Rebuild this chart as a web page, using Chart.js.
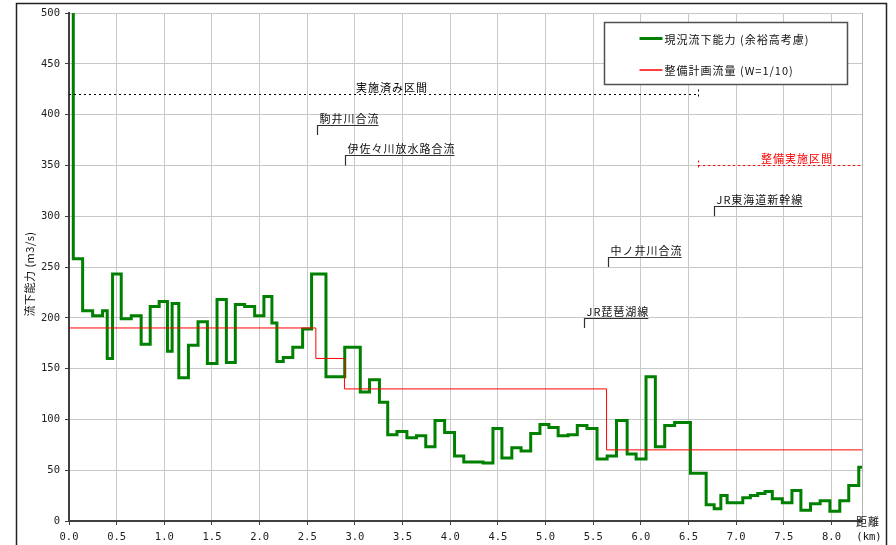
<!DOCTYPE html>
<html lang="ja">
<head>
<meta charset="utf-8">
<title>流下能力縦断図</title>
<script src="https://cdn.jsdelivr.net/npm/chart.js@4.4.1/dist/chart.umd.min.js"></script>
<style>
  html, body { margin: 0; padding: 0; background: #fff; }
  canvas { display: block; }
</style>
</head>
<body>
<canvas id="flowChart" width="896" height="545"></canvas>
<script>
// 現況流下能力 : 区間の始点距離(km) と その区間の値(m3/s)、階段状に描く
const distKm = [0, 0.045, 0.143, 0.248, 0.352, 0.401, 0.457, 0.548, 0.653, 0.757,
  0.852, 0.946, 1.033, 1.082, 1.152, 1.253, 1.354, 1.452, 1.553, 1.651,
  1.745, 1.843, 1.948, 2.045, 2.129, 2.181, 2.248, 2.348, 2.451, 2.545,
  2.696, 2.893, 3.056, 3.153, 3.257, 3.344, 3.441, 3.545, 3.646, 3.743,
  3.840, 3.941, 4.045, 4.142, 4.344, 4.448, 4.542, 4.646, 4.743, 4.844,
  4.941, 5.035, 5.132, 5.236, 5.333, 5.434, 5.540, 5.646, 5.744, 5.856,
  5.950, 6.054, 6.152, 6.250, 6.354, 6.520, 6.685, 6.769, 6.839, 6.905,
  7.069, 7.149, 7.226, 7.303, 7.379, 7.484, 7.585, 7.679, 7.780, 7.881,
  7.983, 8.087, 8.181, 8.286, 8.320];
const capacity = [600, 258, 207, 202, 207, 160, 243, 199, 202, 174,
  211, 216, 167, 214, 141, 173, 196, 155, 218, 156,
  213, 211, 202, 221, 195, 157, 161, 171, 189, 243,
  142, 171, 127, 139, 117, 85, 88, 82, 84, 73,
  99, 87, 64, 58, 57, 91, 62, 72, 69, 86,
  95, 92, 84, 85, 94, 91, 61, 64, 99, 66,
  61, 142, 73, 94, 97, 47, 16, 12, 25, 18,
  23, 25, 27, 29, 22, 18, 30, 10.5, 17, 20,
  9.5, 20, 35, 53, 53];

// 整備計画流量 (W=1/10)
const planKm = [0, 2.59, 2.89, 5.64, 8.32];
const planFlow = [190, 160, 130, 70, 70];

// 軸目盛り
const xTicks = [0, 0.5, 1, 1.5, 2, 2.5, 3, 3.5, 4, 4.5, 5, 5.5, 6, 6.5, 7, 7.5, 8];
const yTicks = [0, 50, 100, 150, 200, 250, 300, 350, 400, 450, 500];

// 区間表示 (点線)
const sectionNames = ['実施済み区間', '整備実施区間'];
const sectionFrom = [0, 6.6];
const sectionTo = [6.6, 8.32];
const sectionLevel = [420, 350];
const sectionLabelKm = [3.01, 7.26];

// 合流点・横断構造物の引出し
const junctionNames = ['駒井川合流', '伊佐々川放水路合流', 'JR琵琶湖線', '中ノ井川合流', 'JR東海道新幹線'];
const junctionKm = [2.6, 2.9, 5.4, 5.65, 6.765];
const junctionLevel = [390, 360, 200, 260, 310];

const jpFont = '"Noto Sans CJK JP", sans-serif';
const numFont = { family: '"DejaVu Sans Mono", monospace', size: 10.5 };

const capacityPoints = distKm.map((km, i) => ({ x: km, y: capacity[i] }));
const planPoints = planKm.map((km, i) => ({ x: km, y: planFlow[i] }));

function seg(ctx, x1, y1, x2, y2) {
  ctx.beginPath();
  ctx.moveTo(x1, y1);
  ctx.lineTo(x2, y2);
  ctx.stroke();
}

// 注記・凡例・枠線
const riverNotes = {
  id: 'riverNotes',
  afterDatasetsDraw(chart) {
    const { ctx, chartArea: a, scales: { x, y } } = chart;
    ctx.save();

    // グラフ領域の右枠
    ctx.strokeStyle = '#b4b4b4';
    ctx.lineWidth = 1;
    seg(ctx, Math.round(a.right) + 0.5, a.top, Math.round(a.right) + 0.5, a.bottom);

    ctx.font = '11px ' + jpFont;
    ctx.letterSpacing = '1px';
    ctx.textBaseline = 'alphabetic';
    ctx.textAlign = 'left';

    // 区間の点線
    sectionNames.forEach((name, i) => {
      const color = i === 0 ? '#000' : '#ff0000';
      const py = Math.round(y.getPixelForValue(sectionLevel[i])) + 0.5;
      const x1 = x.getPixelForValue(sectionFrom[i]);
      const x2 = x.getPixelForValue(sectionTo[i]);
      ctx.strokeStyle = color;
      ctx.lineWidth = 1;
      ctx.setLineDash([2, 3]);
      seg(ctx, x1, py, x2, py);
      const xe = Math.round(i === 0 ? x2 : x1) + 0.5;
      seg(ctx, xe, py - 5, xe, py + 5);
      ctx.setLineDash([]);
      ctx.fillStyle = color;
      ctx.fillText(name, x.getPixelForValue(sectionLabelKm[i]), py - 3);
    });

    // 合流点などの引出し線
    ctx.strokeStyle = '#303030';
    ctx.fillStyle = '#111';
    ctx.lineWidth = 1.2;
    junctionNames.forEach((name, i) => {
      const px = Math.round(x.getPixelForValue(junctionKm[i])) + 0.5;
      const top = Math.round(y.getPixelForValue(junctionLevel[i])) + 0.5;
      const bottom = y.getPixelForValue(junctionLevel[i] - 10);
      const w = ctx.measureText(name).width;
      ctx.beginPath();
      ctx.moveTo(px, bottom);
      ctx.lineTo(px, top);
      ctx.lineTo(px + w + 1, top);
      ctx.stroke();
      ctx.fillText(name, px + 2, top - 3);
    });

    ctx.restore();
  },
  afterDraw(chart) {
    const { ctx, chartArea: a } = chart;
    ctx.save();

    // 凡例
    const bx = a.right - 257.5, by = a.top + 9.5, bw = 243, bh = 62;
    ctx.fillStyle = '#fff';
    ctx.fillRect(bx, by, bw, bh);
    ctx.strokeStyle = '#505050';
    ctx.lineWidth = 1.5;
    ctx.strokeRect(bx, by, bw, bh);
    ctx.font = '11px ' + jpFont;
    ctx.letterSpacing = '1px';
    ctx.textBaseline = 'middle';
    ctx.textAlign = 'left';
    chart.data.datasets.forEach((ds, i) => {
      const ly = by + 16 + i * 31.5;
      ctx.strokeStyle = ds.borderColor;
      ctx.lineWidth = ds.borderWidth === 1 ? 1.5 : ds.borderWidth;
      seg(ctx, bx + 35, ly, bx + 58, ly);
      ctx.fillStyle = '#111';
      ctx.fillText(ds.label, bx + 60, ly + 1);
    });

    // 縦軸タイトル
    ctx.save();
    ctx.translate(30, 274);
    ctx.rotate(-Math.PI / 2);
    ctx.textAlign = 'center';
    ctx.fillStyle = '#111';
    ctx.letterSpacing = '0.5px';
    ctx.fillText('流下能力 (m3/s)', 0, 0);
    ctx.restore();

    // 横軸タイトル
    ctx.textAlign = 'center';
    ctx.fillStyle = '#111';
    ctx.fillText('距離', a.right + 6, a.bottom + 1);
    ctx.font = '10.5px "DejaVu Sans Mono", monospace';
    ctx.letterSpacing = '0px';
    ctx.fillText('(km)', a.right + 7, a.bottom + 16);

    // 外枠
    ctx.strokeStyle = '#222';
    ctx.lineWidth = 1.5;
    ctx.strokeRect(16.5, 3.5, 870, 560);

    ctx.restore();
  }
};

new Chart(document.getElementById('flowChart'), {
  type: 'line',
  data: {
    datasets: [
      {
        label: '現況流下能力 (余裕高考慮)',
        data: capacityPoints,
        borderColor: '#008000',
        borderWidth: 3,
        stepped: true,
        pointRadius: 0,
        order: 2
      },
      {
        label: '整備計画流量 (W=1/10)',
        data: planPoints,
        borderColor: '#ff0000',
        borderWidth: 1,
        stepped: true,
        pointRadius: 0,
        order: 1
      }
    ]
  },
  options: {
    responsive: false,
    animation: false,
    devicePixelRatio: 1,
    layout: { padding: { left: 0, right: 34, top: 13, bottom: 0 } },
    plugins: {
      legend: { display: false },
      tooltip: { enabled: false }
    },
    scales: {
      x: {
        type: 'linear',
        min: 0,
        max: 8.32,
        afterBuildTicks: s => { s.ticks = xTicks.map(v => ({ value: v })); },
        afterFit: s => { s.height = 24; },
        ticks: {
          callback: v => Number(v).toFixed(1),
          font: numFont,
          color: '#222',
          padding: 6,
          maxRotation: 0,
          autoSkip: false
        },
        grid: { color: '#c8c8c8', tickColor: '#404040', tickLength: 4 },
        border: { color: '#404040', width: 2 }
      },
      y: {
        min: 0,
        max: 500,
        afterBuildTicks: s => { s.ticks = yTicks.map(v => ({ value: v })); },
        afterFit: s => { s.width = 69; },
        ticks: {
          font: numFont,
          color: '#222',
          padding: 5,
          autoSkip: false
        },
        grid: { color: '#c8c8c8', tickColor: '#404040', tickLength: 4 },
        border: { color: '#404040', width: 2 }
      }
    }
  },
  plugins: [riverNotes]
});
</script>
</body>
</html>
